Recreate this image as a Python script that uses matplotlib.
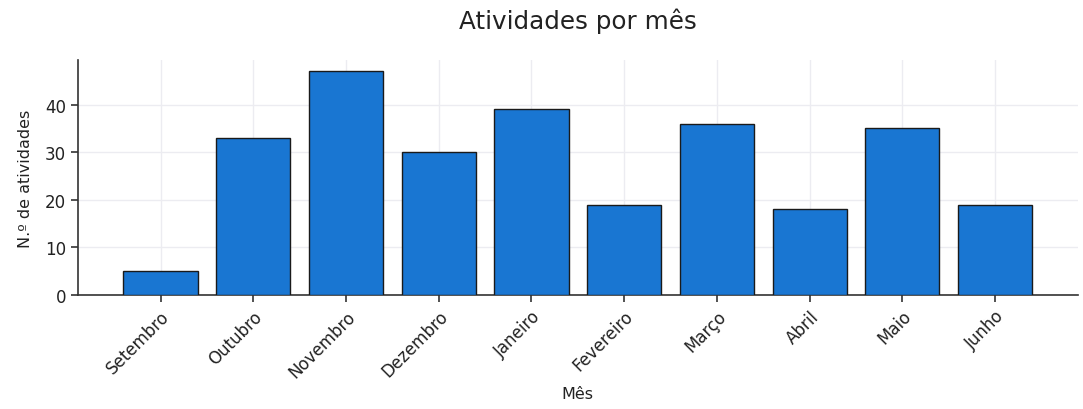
import matplotlib
matplotlib.use("Agg")
import matplotlib.pyplot as plt

meses = ["Setembro", "Outubro", "Novembro", "Dezembro", "Janeiro",
         "Fevereiro", "Março", "Abril", "Maio", "Junho"]
atividades = [5, 33, 47, 30, 39, 19, 36, 18, 35, 19]

fig = plt.figure(figsize=(10.83, 4.10), dpi=100)
ax = fig.add_axes([0.072, 0.278, 0.923, 0.573])

ax.bar(meses, atividades, width=0.8, color="#1976D2",
       edgecolor="#1a1a1a", linewidth=1.0, zorder=3)

ax.grid(True, color="#ececf1", linewidth=1.0, zorder=0)
ax.set_axisbelow(True)

for side in ("top", "right"):
    ax.spines[side].set_visible(False)
for side in ("left", "bottom"):
    ax.spines[side].set_color("#333333")
    ax.spines[side].set_linewidth(1.2)

ax.tick_params(axis="both", colors="#333333", labelcolor="#222222",
               labelsize=12, length=5, width=1.2)
plt.setp(ax.get_xticklabels(), rotation=45, ha="right", rotation_mode="anchor")

ax.set_title("Atividades por mês", fontsize=17.7, pad=23, color="#222222")
ax.set_xlabel("Mês", fontsize=11.5, labelpad=4, color="#222222")
ax.set_ylabel("N.º de atividades", fontsize=11.5, labelpad=9, color="#222222")

fig.savefig("out.png", dpi=100)
